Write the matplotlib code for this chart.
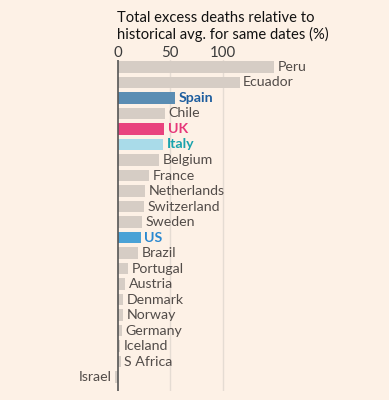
import matplotlib
matplotlib.use("Agg")
import matplotlib.pyplot as plt

# excess deaths (%), top to bottom
countries = ["Peru", "Ecuador", "Spain", "Chile", "UK", "Italy", "Belgium", "France",
             "Netherlands", "Switzerland", "Sweden", "US", "Brazil", "Portugal",
             "Austria", "Denmark", "Norway", "Germany", "Iceland", "S Africa", "Israel"]
excess = [149, 116, 55, 45, 44, 43.5, 39, 30, 26, 25, 23, 22, 19, 10, 7, 5, 4.7,
          3.8, 2.5, 2.8, -2.5]
ticks = [0, 50, 100]

plt.rcParams["font.family"] = ["Lato", "DejaVu Sans"]

bg = "#fdf1e6"
grey = "#d6cdc5"
bar_col = {"Spain": "#5b8db3", "UK": "#e9437e", "Italy": "#a9dbe9", "US": "#4aa2d6"}
lab_col = {"Spain": "#1d5d9e", "UK": "#e6377a", "Italy": "#1aa3ad", "US": "#2a88d0"}

fig = plt.figure(figsize=(3.89, 4.0), dpi=100, facecolor=bg)
ax = fig.add_axes([0.2216, 0.0225, 0.702, 0.8275], facecolor=bg)

y = list(range(len(countries)))
colors = [bar_col.get(c, grey) for c in countries]
ax.barh(y, excess, height=0.75, color=colors, zorder=2)

for yi, c, v in zip(y, countries, excess):
    col = lab_col.get(c, "#524c49")
    wt = "bold" if c in lab_col else "normal"
    if v >= 0:
        ax.text(v + 3.5, yi, c, va="center", ha="left", fontsize=10.2, color=col,
                fontweight=wt)
    else:
        ax.text(v - 3.5, yi, c, va="center", ha="right", fontsize=10.2, color=col,
                fontweight=wt)

ax.set_ylim(20.9, -0.45)
ax.set_xlim(-30, 230)
ax.set_xticks(ticks)
ax.xaxis.tick_top()
ax.tick_params(axis="x", length=0, labelsize=10.8, colors="#3a3a3a", pad=0)
ax.set_yticks([])
for v in ticks[1:]:
    ax.axvline(v, color="#e5dcd3", lw=1, zorder=1)
ax.axvline(0, color="#555555", lw=1.2, zorder=3)
for s in ax.spines.values():
    s.set_visible(False)

fig.text(0.300, 0.895, "Total excess deaths relative to\nhistorical avg. for same dates (%)",
         fontsize=10.6, color="#111111", ha="left", va="bottom", linespacing=1.2)

fig.savefig("out.png", dpi=100, facecolor=bg)
